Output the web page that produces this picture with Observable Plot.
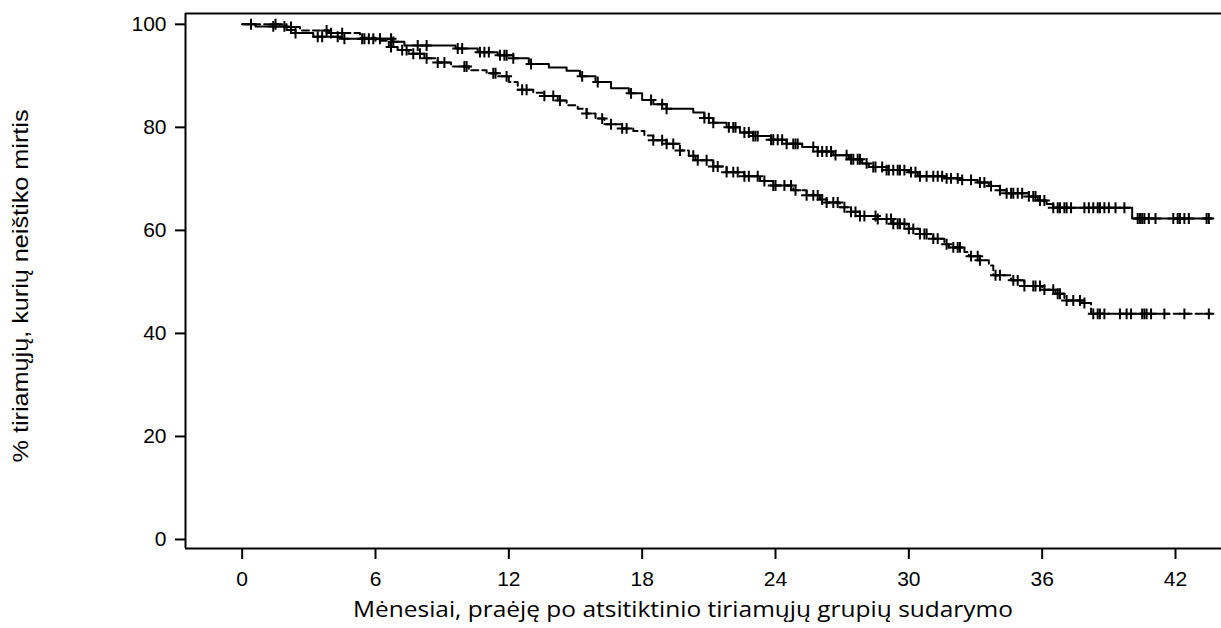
<!DOCTYPE html>
<html>
<head>
<meta charset="utf-8">
<script src="https://cdn.jsdelivr.net/npm/d3@7"></script>
<script src="https://cdn.jsdelivr.net/npm/@observablehq/plot@0.6"></script>
<style>
  html, body { margin: 0; padding: 0; background: #fff; }
  #chart { width: 1221px; height: 628px; overflow: hidden; }
  svg { display: block; }
</style>
</head>
<body>
<div id="chart"></div>
<script>
// Axis ticks
const xTicks = [0, 6, 12, 18, 24, 30, 36, 42];
const yTicks = [0, 20, 40, 60, 80, 100];
const xTitle = "Mėnesiai, praėję po atsitiktinio tiriamųjų grupių sudarymo";
const yTitle = "% tiriamųjų, kurių neištiko mirtis";

// Upper (solid) curve: step times (months) and survival (%)
const solidT = [0, 0.6, 2.0, 2.4, 3.2, 4.5, 6.8, 7.3, 9.6, 10.6, 11.5, 12.2, 12.9, 13.8, 14.6, 15.2, 15.9, 16.6, 17.4, 18.0, 18.5, 19.1, 20.3, 20.8, 21.2, 21.8, 22.4, 23.0, 23.8, 24.5, 25.2, 25.9, 26.6, 27.3, 27.9, 28.2, 29.0, 30.0, 30.4, 31.6, 32.4, 33.1, 33.6, 34.1, 34.4, 35.4, 35.8, 36.2, 36.5, 40.05, 43.65];
const solidS = [100, 99.6, 98.9, 98.3, 97.6, 97.2, 96.6, 95.9, 95.3, 94.6, 94.0, 93.4, 92.3, 91.6, 91.0, 89.9, 88.8, 87.6, 86.6, 85.3, 84.5, 83.6, 82.9, 81.8, 80.9, 80.0, 79.0, 78.3, 77.6, 76.8, 76.2, 75.3, 74.6, 73.8, 73.0, 72.3, 71.7, 71.3, 70.5, 70.1, 69.8, 69.3, 68.6, 67.8, 67.2, 66.6, 65.8, 65.1, 64.4, 62.3, 62.3];

// Lower (dashed) curve
const dashedT = [0, 2.0, 2.6, 3.9, 5.3, 6.0, 6.6, 7.0, 7.5, 8.2, 8.8, 9.4, 10.2, 11.0, 11.5, 12.0, 12.4, 13.1, 13.6, 14.2, 14.6, 15.1, 15.5, 15.9, 16.3, 17.1, 17.6, 18.1, 18.5, 19.1, 19.7, 20.1, 20.4, 21.2, 21.8, 22.6, 23.3, 23.9, 24.8, 25.4, 26.0, 26.3, 26.9, 27.4, 27.8, 28.6, 29.3, 29.9, 30.5, 31.1, 31.6, 31.8, 32.5, 32.7, 33.2, 33.6, 33.8, 34.6, 35.2, 36.0, 36.6, 37.0, 37.9, 38.2, 43.6];
const dashedS = [100, 99.5, 98.8, 98.3, 97.4, 96.8, 95.6, 95.0, 94.3, 93.4, 92.6, 91.8, 91.1, 90.5, 89.9, 88.8, 87.3, 86.7, 86.1, 85.2, 84.3, 83.6, 82.7, 81.7, 80.6, 79.8, 79.3, 78.4, 77.5, 76.8, 75.5, 74.5, 73.6, 72.4, 71.3, 70.5, 69.6, 68.7, 67.8, 66.8, 66.0, 65.4, 64.5, 63.6, 62.8, 62.2, 61.3, 60.3, 59.3, 58.4, 57.3, 56.7, 55.8, 55.0, 54.2, 53.2, 51.3, 50.3, 49.2, 48.5, 47.7, 46.4, 45.9, 43.8, 43.8];

// Censoring times (months)
const solidCensor = [0.4, 1.4, 1.9, 2.4, 3.4, 3.6, 4.3, 4.6, 5.4, 5.5, 5.7, 5.9, 6.2, 6.7, 6.8, 7.9, 8.3, 9.7, 9.9, 10.7, 10.9, 11.1, 11.6, 11.8, 11.9, 12.2, 13.0, 15.3, 16.0, 17.5, 18.4, 18.9, 19.1, 20.8, 21.0, 21.2, 21.9, 22.1, 22.2, 22.6, 22.8, 23.0, 23.1, 23.2, 23.8, 23.9, 24.1, 24.3, 24.5, 24.8, 24.9, 25.0, 25.7, 25.9, 26.1, 26.3, 26.5, 26.7, 27.2, 27.4, 27.5, 27.7, 27.8, 28.1, 28.4, 28.5, 28.8, 29.0, 29.1, 29.3, 29.5, 29.6, 29.8, 30.1, 30.3, 30.5, 30.8, 31.1, 31.3, 31.5, 31.7, 31.9, 32.2, 32.4, 32.8, 33.2, 33.4, 33.7, 34.1, 34.4, 34.6, 34.7, 34.9, 35.1, 35.4, 35.6, 35.7, 35.9, 36.1, 36.5, 36.7, 36.8, 37.0, 37.1, 37.3, 37.9, 38.1, 38.3, 38.5, 38.6, 38.8, 39.0, 39.3, 39.7, 40.3, 40.4, 40.5, 40.6, 40.8, 41.1, 41.9, 42.1, 42.2, 42.4, 42.6, 43.4, 43.5];
const dashedCensor = [1.5, 2.2, 3.8, 4.0, 4.5, 6.7, 7.2, 7.4, 7.7, 8.0, 8.3, 8.8, 9.1, 10.0, 10.1, 11.4, 11.3, 11.9, 12.6, 12.8, 13.6, 14.0, 14.3, 15.5, 16.2, 16.6, 17.1, 17.3, 18.5, 18.9, 19.1, 19.4, 19.7, 20.3, 20.5, 20.9, 21.2, 21.4, 21.8, 22.1, 22.3, 22.6, 22.8, 23.2, 23.5, 23.9, 24.0, 24.4, 24.7, 24.9, 25.4, 25.7, 25.9, 26.1, 26.3, 26.6, 26.8, 27.1, 27.4, 27.6, 27.8, 28.0, 28.5, 28.6, 29.0, 29.2, 29.3, 29.5, 29.6, 29.8, 30.0, 30.2, 30.5, 30.7, 30.8, 31.1, 31.3, 31.7, 32.0, 32.2, 32.3, 32.8, 33.1, 33.2, 33.9, 34.1, 34.7, 34.9, 35.2, 35.6, 35.7, 35.9, 36.1, 36.5, 36.7, 36.8, 37.1, 37.4, 37.7, 37.9, 38.3, 38.5, 38.6, 38.8, 39.5, 39.8, 40.0, 40.5, 40.6, 40.7, 40.9, 41.5, 42.4, 43.5];

// Build tables for the library
const toRows = (T, S) => T.map((t, i) => ({t, s: S[i]}));
const survAt = (T, S, t) => { let v = S[0]; for (let i = 0; i < T.length; i++) { if (T[i] <= t) v = S[i]; else break; } return v; };
const solidRows = toRows(solidT, solidS);
const dashedRows = toRows(dashedT, dashedS);
const solidMarks = solidCensor.map(t => ({t, s: survAt(solidT, solidS, t)}));
const dashedMarks = dashedCensor.map(t => ({t, s: survAt(dashedT, dashedS, t)}));

const xDomain = [-2.55, 44.07];
const yDomain = [-1.75, 102.1];

const plot = Plot.plot({
  width: 1221,
  height: 628,
  marginLeft: 185,
  marginRight: 0,
  marginTop: 13,
  marginBottom: 80,
  style: {fontFamily: "'Liberation Sans', Arial, sans-serif", fontSize: "21px", color: "#000", background: "#fff"},
  x: {domain: xDomain, ticks: xTicks, tickSize: 11, tickPadding: 12, label: null, tickFormat: d => String(d)},
  y: {domain: yDomain, ticks: yTicks, tickSize: 10, tickPadding: 9, label: null, tickFormat: d => String(d)},
  marks: [
    Plot.ruleX([xDomain[0]], {stroke: "#000", strokeWidth: 2}),
    Plot.ruleY([yDomain[0], yDomain[1]], {stroke: "#000", strokeWidth: 2}),
    Plot.line(solidRows, {x: "t", y: "s", curve: "step-after", stroke: "#000", strokeWidth: 2}),
    Plot.line(dashedRows, {x: "t", y: "s", curve: "step-after", stroke: "#000", strokeWidth: 2, strokeDasharray: "7,4"}),
    Plot.dot(solidMarks, {x: "t", y: "s", symbol: "plus", r: 3.6, stroke: "#000", strokeWidth: 2}),
    Plot.dot(dashedMarks, {x: "t", y: "s", symbol: "plus", r: 3.6, stroke: "#000", strokeWidth: 2})
  ]
});

const svg = d3.select(plot);
svg.selectAll("g[aria-label$='tick'] path").attr("stroke-width", 2);
svg.selectAll(".tick line").attr("stroke-width", 2);
svg.selectAll(".domain").remove();
// Larger tick labels
svg.selectAll("g[aria-label$='tick label'], g[aria-label$='axis'], .tick").attr("font-size", 21);
svg.selectAll("text").attr("font-size", 21).attr("font-family", "'Liberation Sans', Arial, sans-serif");

// Axis titles as real text
svg.append("text")
  .attr("x", 683).attr("y", 617)
  .attr("text-anchor", "middle")
  .attr("font-family", "'Open Sans', 'Noto Sans', sans-serif")
  .attr("font-size", 21)
  .attr("fill", "#000")
  .attr("textLength", 660)
  .attr("lengthAdjust", "spacingAndGlyphs")
  .text(xTitle);
svg.append("text")
  .attr("transform", "translate(28,286) rotate(-90)")
  .attr("text-anchor", "middle")
  .attr("font-family", "'Liberation Sans', Arial, sans-serif")
  .attr("font-size", 22)
  .attr("fill", "#000")
  .attr("textLength", 353)
  .attr("lengthAdjust", "spacingAndGlyphs")
  .text(yTitle);

document.getElementById("chart").appendChild(plot);
</script>
</body>
</html>
